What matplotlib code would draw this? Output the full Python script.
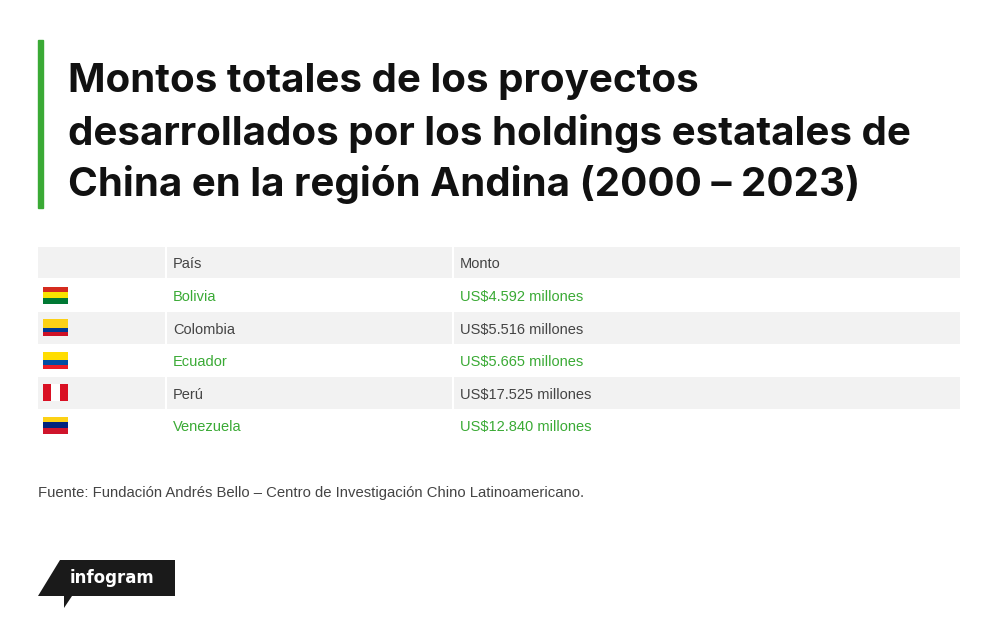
import matplotlib.pyplot as plt
from matplotlib.patches import Rectangle, Polygon

countries = ["Bolivia", "Colombia", "Ecuador", "Perú", "Venezuela"]
amounts = [4592, 5516, 5665, 17525, 12840]
flag_colors = [
    ["#d52b1e", "#f9e300", "#007934"],
    ["#fcd116", "#fcd116", "#003893", "#ce1126"],
    ["#ffdd00", "#ffdd00", "#034ea2", "#ed1c24"],
    None,
    ["#fcd116", "#00247d", "#cf142b"],
]

GREEN = "#3aaa35"
TEXT = "#444444"
GRAY = "#f2f2f2"
BODY = "Liberation Sans"


def fmt(v):
    return "US$" + f"{v:,}".replace(",", ".") + " millones"


fig = plt.figure(figsize=(10, 6.28), dpi=100)
ax = fig.add_axes([0, 0, 1, 1])
ax.set_xlim(0, 1000)
ax.set_ylim(628, 0)
ax.axis("off")

# title
ax.add_patch(Rectangle((38, 40), 5, 168, color=GREEN))
title = ["Montos totales de los proyectos",
         "desarrollados por los holdings estatales de",
         "China en la región Andina (2000 – 2023)"]
for i, line in enumerate(title):
    ax.text(68, 82 + i * 51.5, line, fontsize=29, fontweight="bold", family="Inter",
            color="#111111", va="center", ha="left")

# table
top, hh, rh = 247, 31, 32.5
cols = [(38, 165), (167, 452), (454, 960)]
for x0, x1 in cols:
    ax.add_patch(Rectangle((x0, top), x1 - x0, hh, color=GRAY, lw=0))
ax.text(173, top + hh / 2 + 2, "País", fontsize=10.5, family=BODY, color=TEXT, va="center")
ax.text(460, top + hh / 2 + 2, "Monto", fontsize=10.5, family=BODY, color=TEXT, va="center")

for i, (c, v) in enumerate(zip(countries, amounts)):
    y0 = top + hh + 1 + i * rh
    yc = y0 + rh / 2
    if i % 2 == 1:
        for x0, x1 in cols:
            ax.add_patch(Rectangle((x0, y0), x1 - x0, rh, color=GRAY, lw=0))
    col = GREEN if i % 2 == 0 else TEXT
    ax.text(173, yc + 2, c, fontsize=10.5, family=BODY, color=col, va="center")
    ax.text(460, yc + 2, fmt(v), fontsize=10.5, family=BODY, color=col, va="center")
    # flag
    fx, fw, fh = 43, 25, 17
    fy = yc - fh / 2
    if flag_colors[i] is None:
        for k, fc in enumerate(["#d91023", "white", "#d91023"]):
            ax.add_patch(Rectangle((fx + k * fw / 3, fy), fw / 3, fh, color=fc, lw=0))
    else:
        n = len(flag_colors[i])
        for k, fc in enumerate(flag_colors[i]):
            ax.add_patch(Rectangle((fx, fy + k * fh / n), fw, fh / n, color=fc, lw=0))

ax.text(38, 493, "Fuente: Fundación Andrés Bello – Centro de Investigación Chino Latinoamericano.",
        fontsize=10.7, family=BODY, color=TEXT, va="center")

# infogram logo
ax.add_patch(Polygon([(60, 560), (175, 560), (175, 596), (72, 596), (64, 608), (64, 596), (38, 596)],
                     closed=True, color="#1a1a1a", lw=0))
ax.text(112, 578, "infogram", fontsize=12, fontweight="bold", color="white",
        va="center", ha="center")

fig.savefig("out.png", dpi=100, facecolor="white")
